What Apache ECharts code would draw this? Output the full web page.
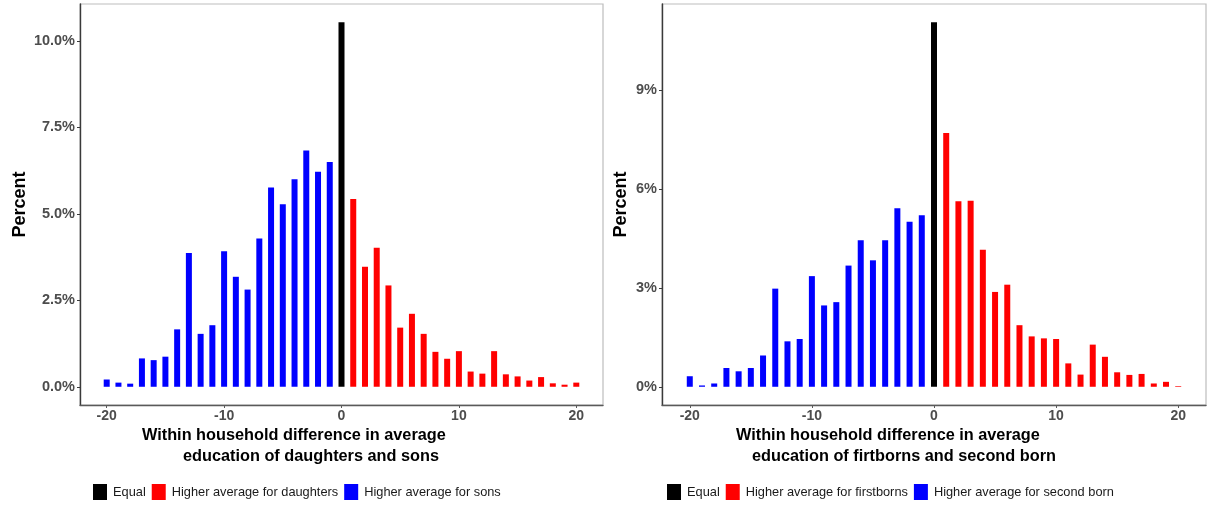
<!DOCTYPE html>
<html>
<head>
<meta charset="utf-8">
<script src="https://cdn.jsdelivr.net/npm/echarts@6/dist/echarts.min.js"></script>
<style>
html,body{margin:0;padding:0;background:#fff;}
#chart{width:1208px;height:508px;}
</style>
</head>
<body>
<div id="chart"></div>
<script>
// ---- data ----
const diffNeg = [-20,-19,-18,-17,-16,-15,-14,-13,-12,-11,-10,-9,-8,-7,-6,-5,-4,-3,-2,-1];
const diffZero = [0];
const diffPos = [1,2,3,4,5,6,7,8,9,10,11,12,13,14,15,16,17,18,19,20];

// Left panel: daughters vs sons (percent)
const sonsPct = [0.21,0.12,0.09,0.82,0.77,0.87,1.66,3.87,1.53,1.78,3.92,3.18,2.81,4.29,5.76,5.28,6.00,6.83,6.22,6.50];
const equalPctA = [10.54];
const daughtersPct = [5.43,3.47,4.02,2.93,1.71,2.11,1.53,1.01,0.81,1.03,0.44,0.38,1.03,0.36,0.30,0.18,0.28,0.10,0.06,0.12];

// Right panel: firstborns vs second born (percent)
const secondBornPct = [0.32,0.04,0.10,0.57,0.47,0.57,0.95,2.98,1.38,1.45,3.36,2.47,2.57,3.68,4.45,3.84,4.45,5.42,5.01,5.21];
const equalPctB = [11.07];
const firstbornPct = [7.71,5.63,5.65,4.16,2.88,3.10,1.87,1.53,1.47,1.45,0.71,0.37,1.28,0.91,0.44,0.36,0.39,0.10,0.15,0.02];

const xTicks = [-20,-10,0,10,20];
const yTicksA = [0,2.5,5,7.5,10];
const yTicksB = [0,3,6,9];

const namesA = ['Equal','Higher average for daughters','Higher average for sons'];
const namesB = ['Equal','Higher average for firstborns','Higher average for second born'];
const xTitleA = ['Within household difference in average','education of daughters and sons'];
const xTitleB = ['Within household difference in average','education of firtborns and second born'];

// ---- build ----
const pairs = (xs, ys) => xs.map((x, i) => [x, ys[i]]);
const FONT = "'Liberation Sans', Arial, Helvetica, sans-serif";
const COL = {equal:'#000000', hi:'#ff0000', lo:'#0000ff'};

function xAxisCfg(gi){
  return {
    type:'value', gridIndex:gi, min:-22.275, max:22.275,
    axisLine:{show:true, onZero:false, lineStyle:{color:'#5a5a5a', width:1.4}},
    axisTick:{show:true, length:3, customValues:xTicks, lineStyle:{color:'#5a5a5a', width:1}},
    axisLabel:{customValues:xTicks, margin:4, color:'#4d4d4d', fontSize:14, fontWeight:'bold', fontFamily:FONT},
    splitLine:{show:false}
  };
}
function yAxisCfg(gi, maxV, ticks, fmt, gap){
  const ex = maxV*0.05;
  return {
    type:'value', gridIndex:gi, min:-ex, max:maxV+ex,
    name:'Percent', nameLocation:'middle', nameRotate:90, nameGap:gap,
    nameTextStyle:{color:'#000', fontSize:18, fontWeight:'bold', fontFamily:FONT},
    axisLine:{show:true, onZero:false, lineStyle:{color:'#3a3a3a', width:1.4}},
    axisTick:{show:true, length:3, customValues:ticks, lineStyle:{color:'#3a3a3a', width:1}},
    axisLabel:{customValues:ticks, margin:5, color:'#4d4d4d', fontSize:14.5, fontWeight:'bold', fontFamily:FONT, formatter:fmt},
    splitLine:{show:false}
  };
}
function barSeries(name, data, color, gi){
  return {
    type:'bar', name:name, xAxisIndex:gi, yAxisIndex:gi, data:data,
    barWidth:6, barGap:'-100%', itemStyle:{color:color}, silent:true
  };
}
function titleCfg(text, left, top){
  return {text:text, left:left, top:top, padding:0,
    textStyle:{fontSize:16.3, fontWeight:'bold', color:'#000', fontFamily:FONT, lineHeight:18}};
}
function legendCfg(names, left){
  return {left:left, top:484, padding:0, itemWidth:14, itemHeight:16, itemGap:6, icon:'rect', selectedMode:false,
    data:names, textStyle:{fontSize:12.8, color:'#1a1a1a', fontFamily:FONT, padding:[0,0,0,1]}};
}

const option = {
  animation:false,
  backgroundColor:'#fff',
  grid:[
    {left:80, right:605, top:4, bottom:103, show:true, borderColor:'#bdbdbd', borderWidth:1.2},
    {left:662, right:2, top:4, bottom:103, show:true, borderColor:'#bdbdbd', borderWidth:1.2}
  ],
  xAxis:[xAxisCfg(0), xAxisCfg(1)],
  yAxis:[
    yAxisCfg(0, Math.max(...equalPctA), yTicksA, v => v.toFixed(1)+'%', 51),
    yAxisCfg(1, Math.max(...equalPctB), yTicksB, v => v+'%', 32)
  ],
  title:[
    titleCfg(xTitleA[0], 142, 427),
    titleCfg(xTitleA[1], 183, 448),
    titleCfg(xTitleB[0], 736, 427),
    titleCfg(xTitleB[1], 752, 448)
  ],
  legend:[legendCfg(namesA, 93), legendCfg(namesB, 667)],
  series:[
    barSeries(namesA[0], pairs(diffZero, equalPctA), COL.equal, 0),
    barSeries(namesA[1], pairs(diffPos, daughtersPct), COL.hi, 0),
    barSeries(namesA[2], pairs(diffNeg, sonsPct), COL.lo, 0),
    barSeries(namesB[0], pairs(diffZero, equalPctB), COL.equal, 1),
    barSeries(namesB[1], pairs(diffPos, firstbornPct), COL.hi, 1),
    barSeries(namesB[2], pairs(diffNeg, secondBornPct), COL.lo, 1)
  ]
};

const chart = echarts.init(document.getElementById('chart'), null, {renderer:'canvas'});
chart.setOption(option);
</script>
</body>
</html>
